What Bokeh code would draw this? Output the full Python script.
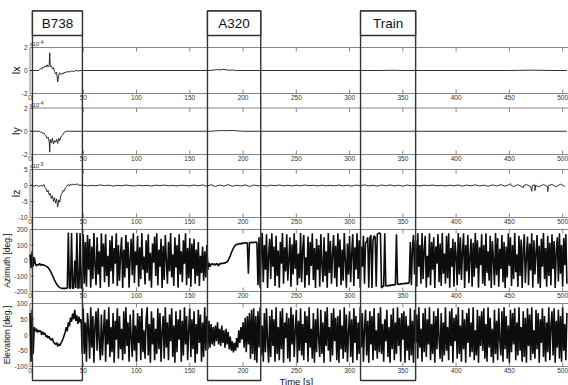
import math
import numpy as np
from bokeh.plotting import figure
from bokeh.models import Range1d
from bokeh.core.properties import value
from bokeh.embed import file_html
from bokeh.resources import INLINE

# ------------------------------------------------------------------ data
TIME_TICKS = [0, 50, 100, 150, 200, 250, 300, 350, 400, 450, 500]
WINDOW_NAMES = ["B738", "A320", "Train"]
WINDOW_START = [2.3, 166.6, 310.3]
WINDOW_END = [49.2, 216.6, 362.0]

# Ix, Iy in units of 1e-4
IX_T = [0, 8, 9, 10, 11, 12, 13, 14, 15, 16, 17, 18, 18.5, 19, 20, 21, 22, 23, 24, 25, 26, 27, 28, 29,
        30, 31, 32, 33, 35, 37, 39, 41, 43, 45, 47, 49, 168, 172, 175, 178, 181, 184, 187, 190, 193, 196,
        330, 340, 350, 450, 470, 490, 504]
IX_V = [0, 0, 0.1, 0.2, 0.1, 0.3, 0.25, 0.4, 0.3, 0.5, 0.3, 0.45, 1.55, 0.35, 0.4, 0.15, 0.25, -0.1, -0.3,
        -0.15, -1.0, -0.4, -0.2, -0.35, -0.25, -0.3, -0.15, -0.2, -0.1, -0.12, -0.05, -0.08, 0.0, -0.05, 0.0,
        0.0, 0, 0.03, 0.08, 0.05, 0.1, 0.06, 0.02, 0.05, 0.0, 0, 0, 0.02, 0, 0, 0.03, 0, 0]

IY_T = [0, 9, 10, 11, 12, 13, 14, 15, 16, 17, 18, 18.5, 19, 20, 21, 22, 23, 24, 25, 26, 27, 28, 29, 30, 31,
        32, 33, 34, 170, 175, 180, 185, 190, 195, 200, 504]
IY_V = [0, 0, -0.1, -0.05, -0.2, -0.15, -0.3, -0.4, -0.6, -0.5, -0.9, -1.8, -0.7, -1.0, -0.6, -1.1, -0.8,
        -0.95, -0.7, -1.05, -0.6, -0.8, -0.5, -0.4, -0.25, -0.1, -0.05, 0, 0, 0.04, 0.06, 0.05, 0.07, 0.03,
        0, 0]

# Iz in units of 1e-5
IZ_T_EARLY = [0, 2, 4, 6, 8, 10, 12, 13, 14, 15, 16, 17, 18, 19, 20, 21, 22, 23, 24, 25, 26, 27, 28, 29,
              30, 31, 32, 33, 34, 35, 36, 37, 38, 39, 40, 42, 44, 46]
IZ_V_EARLY = [0, 0.1, -0.2, 0.1, -0.3, 0.0, -0.2, 0.3, -0.5, -1.0, -2.0, -1.5, -3.0, -2.5, -4.0, -3.2, -5.0,
              -3.8, -5.5, -4.2, -6.7, -4.5, -5.2, -3.0, -2.5, -1.5, -1.8, -0.8, -0.5, 0.0, 0.3, -0.2, 0.5,
              0.1, 0.4, 0.2, 0.5, 0.1]
IZ_LATE_START = 50
IZ_LATE_STEP = 4
IZ_V_LATE = [0.1, -0.15, 0.05, -0.1, 0.2, -0.05, 0.1, -0.2, 0.05, -0.1,
             0.15, -0.05, -0.15, 0.1, -0.1, 0.05, -0.2, 0.1, -0.05, 0.15,
             -0.1, 0.05, -0.15, 0.1, 0.0, -0.15, 0.15, -0.1, 0.2, -0.25,
             0.25, -0.3, 0.15, -0.2, 0.3, -0.25, 0.1, -0.15, 0.2, -0.3,
             0.15, -0.1, 0.05, -0.15, 0.1, -0.05, 0.15, -0.1, 0.05, -0.15,
             0.1, -0.1, 0.15, -0.05, 0.05, -0.15, 0.1, -0.1, 0.05, -0.1,
             0.15, -0.15, 0.1, -0.2, 0.15, -0.1, 0.2, -0.15, 0.1, -0.2,
             0.15, -0.1, 0.2, -0.15, 0.1, -0.2, 0.15, -0.1, 0.05, -0.15,
             0.1, -0.05, 0.15, -0.1, 0.05, -0.15, 0.1, -0.1, 0.15, -0.2,
             0.15, -0.1, 0.2, -0.15, 0.1, -0.25, 0.2, -0.15, 0.25, -0.2,
             0.3, -0.3, 0.25, -0.4, 0.3, -0.35, 0.2, -0.4, 0.35, -0.45,
             0.3, -0.35, 0.4, -0.25]
IZ_SPIKE_T = [451, 451.6, 463, 463.6, 471, 471.6, 474, 474.6, 486, 486.6]
IZ_SPIKE_V = [0.6, 0.0, -0.8, 0.0, -1.8, 0.0, -1.6, 0.0, -1.9, 0.0]

SAMPLE_DT = 1.0  # seconds between azimuth / elevation samples
AZIMUTH = [
    40, -50, 60, -40, 20, -20, -35, -25, -30, -18,
    -32, -25, -30, -28, -34, -36, -40, -46, -55, -66,
    -80, -95, -110, -126, -140, -152, -162, -170, -175, -178,
    -180, -180, -179, -180, -180, -178, 180, -179, -178, 178,
    -180, -177, 0, -178, 179, -180, -176, 178, -179, -175,
    170, -150, 120, -170, 165, -60, 140, -175, 90, -120,
    178, -30, -160, 150, -90, 60, -178, 175, -40, 110,
    -140, 170, -100, 30, -170, 130, -70, 160, -150, 80,
    -20, 175, -165, 100, -130, 45, 150, -178, 70, -110,
    165, -50, 120, -175, 10, 140, -95, 175, -145, 60,
    -30, 160, -170, 85, -120, 178, -60, 25, -155, 130,
    -80, 170, -130, 50, -175, 110, -15, 155, -100, 175,
    -160, 70, -40, 140, -178, 95, -125, 165, 0, -150,
    120, -70, 178, -110, 40, -165, 150, -45, 100, -175,
    170, -90, 60, -140, 130, -20, 175, -160, 80, -115,
    145, -170, 110, -55, 140, -150, 70, -100, 120, -165,
    30, -80, 90, -130, 60, -110, 100, -60, -15, -40,
    -25, -20, -28, -22, -30, -18, -25, -35, -20, -22,
    -18, -20, -15, -17, -12, -10, 0, 15, 30, 50,
    65, 80, 92, 100, 105, 103, 108, 110, 106, 112,
    110, 114, 112, 115, 113, -85, 116, 114, 118, 115,
    118, 116, 120, 117, -160, 150, -175, 60, 178, -140,
    100, -60, 170, -178, 30, 140, -120, 175, -40, 90,
    -165, 160, -100, 65, -175, 120, -20, 178, -150, 85,
    -70, 170, -130, 10, 150, -170, 105, -90, 175, -55,
    130, -160, 45, -115, 178, -140, 70, 165, -175, 20,
    -95, 155, -160, 120, -35, 175, -125, 80, -178, 140,
    -60, 100, -170, 170, -20, -140, 150, -100, 60, -175,
    178, -80, 125, -150, 40, 165, -115, 95, -170, 175,
    -45, 135, -160, 70, -130, 178, 0, -175, 110, -90,
    160, -140, 50, 170, -165, 85, -60, 175, -120, 130,
    -178, 90, -40, 160, -150, 115, 120, 150, -175, 140,
    165, -178, 130, 160, 150, -170, 170, 175, 178, 172,
    -178, -165, -168, 175, -163, -165, -162, -160, -163, -158,
    -160, -156, -158, -155, 170, -155, -152, -154, -150, -152,
    -148, -150, -147, -150, -145, -148, -140, 120, -160, 80,
    165, -90, 130, -170, 175, -40, 100, -150, 178, -120,
    70, 160, -175, 30, -110, 175, -160, 120, -60, 150,
    -178, 90, -20, 170, -140, 110, -165, 178, -85, 45,
    -150, 160, -115, 175, -175, 80, -40, 140, -170, 120,
    30, -160, 178, -90, 150, -125, 60, 175, -178, 100,
    -70, 165, -145, 20, 140, -170, 115, -105, 178, -50,
    130, -175, 85, -30, 170, -150, 100, -165, 175, -80,
    60, -130, 160, -178, 125, 10, -160, 178, -95, 145,
    -170, 75, -55, 165, -140, 120, -178, 90, -110, 175,
    -35, 150, -165, 100, -120, 178, -75, 40, -170, 160,
    -100, 135, -178, 70, 170, -145, 20, 155, -160, 110,
    -65, 175, -175, 130, -90, 50, 165, -150, 95, -178,
    140, -40, 178, -120, 80, -170, 160, -100, 115, -160,
    170, -55, 125, -178, 60, 150, -135, 175, -85, 100,
    -170, 145, -30, 170, -150,
]
ELEVATION = [
    70, -85, 80, -60, 25, 12, 20, 8, 15, 10,
    14, 0, 10, 2, 6, -6, -2, -10, -4, -14,
    -16, -10, -22, -26, -30, -24, -36, -28, -34, -26,
    -20, -12, -2, 8, 25, 12, 40, 28, 55, 42,
    68, 50, 80, 45, 62, 35, 58, 40, 50, -60,
    85, -60, 40, -85, 70, 20, -75, 88, -40, 60,
    -88, 30, 75, -50, 85, -20, -80, 65, -65, 10,
    80, -85, 50, -30, 88, -70, 25, -55, 70, -88,
    45, -15, 85, -75, 60, -45, 20, -80, 75, -60,
    88, -35, 40, -85, 65, -10, -70, 80, -50, 30,
    -85, 70, -25, 60, -80, 85, -55, 15, -75, 50,
    88, -65, 35, -88, 75, -30, 55, -80, 20, -60,
    85, -45, 70, -85, 10, 60, -75, 88, -40, 40,
    -80, 65, -20, 85, -70, 30, -88, 75, -55, 50,
    -15, 80, -85, 45, -65, 88, -30, 60, -80, 20,
    85, -70, 50, -45, 75, -88, 35, -60, 80, -25,
    65, -85, 40, -70, 88, -50, 60, -45, 45, -40,
    35, -30, 25, -35, 30, -20, 40, -30, 20, -35,
    30, -25, 15, -40, 20, -30, 10, -45, -5, -50,
    -20, -55, -25, -50, -10, -40, 15, -25, 25, -15,
    40, -40, 55, -55, 60, -30, 70, -75, 80, -60,
    85, -80, 60, -88, 75, -40, 88, -65, 30, -85,
    70, -55, 85, -20, -88, 60, -70, 80, -35, 50,
    -85, 88, -60, 25, -80, 75, -45, 85, -88, 40,
    -10, 70, -75, 55, -85, 88, -30, 65, -70, 15,
    80, -88, 45, -50, 85, -65, 35, -80, 75, -25,
    60, -85, 88, -40, 20, -75, 70, -88, 50, -55,
    85, -15, -70, 80, -60, 40, -88, 75, -35, 88,
    -50, 25, -85, 70, -65, 85, -20, 55, -80, 60,
    -88, 80, -45, 30, -75, 88, -55, 65, -85, 10,
    75, -70, 50, -88, 85, -25, 60, -80, 40, -60,
    88, -40, 70, -85, 20, 80, -65, 45, -88, 75,
    -30, 60, -80, 85, -50, 15, -75, 70, -55, 88,
    -60, 35, -85, 50, -20, 80, -70, 25, -88, 65,
    -45, 85, -80, 40, -60, 88, -35, 55, -85, 70,
    -15, 75, -88, 60, -50, 30, -80, 85, -65, 45,
    -88, 80, -25, 65, -75, 88, -40, 20, -85, 70,
    -55, 85, -70, 50, -30, 88, -80, 35, -60, 75,
    -88, 60, -45, 85, -15, -75, 70, -85, 40, -65,
    88, -50, 25, -80, 75, -35, 85, -88, 55, -20,
    65, -75, 88, -60, 30, -85, 80, -45, 50, -88,
    70, -25, 85, -70, 40, -55, 88, -80, 15, -65,
    80, -88, 60, -35, 75, -50, 85, -75, 35, -85,
    88, -40, 55, -70, 20, -88, 80, -60, 45, -80,
    85, -15, -65, 75, -85, 88, -45, 60, -75, 30,
    -88, 80, -55, 70, -30, 85, -80, 40, -65, 88,
    -50, 25, -85, 75, -70, 55, -88, 85, -35, 65,
    -80, 88, -60, 15, -75, 80, -45, 70, -88, 50,
    -25, 85, -70, 60, -85, 40, -55, 88, -80, 30,
    75, -65, 85, -88, 45, -40, 80, -75, 60, -85,
    88, -50, 35, -80, 70,
]

IX_TICKS = [2, 0, -2]
IY_TICKS = [2, 0, -2]
IZ_TICKS = [5, 0, -5, -10]
AZ_TICKS = [200, 100, 0, -100, -200]
EL_TICKS = [100, 50, 0, -50, -100]

# ------------------------------------------------------------------ layout / style
W, H = 568, 385
X0_PX = 29.5          # pixel position of t = 0
T_END = 505.5         # time at the right edge
PXS = (W - X0_PX) / T_END
FONT = value("Liberation Sans")
FRAME_C = "#858585"
TICKLAB_C = "#333333"
BOX_C = "#333333"
TICK_FS = "6.5px"

HDR_TOP, HDR_BOT, BOX_BOT = 10.5, 35.0, 380.0
TIME_LABEL_Y = 380.5

# Iz: early samples, regular late samples and a few short spikes, merged in time order
iz_pairs = list(zip(IZ_T_EARLY, IZ_V_EARLY))
iz_pairs += [(IZ_LATE_START + IZ_LATE_STEP * i, v) for i, v in enumerate(IZ_V_LATE)]
iz_pairs += list(zip(IZ_SPIKE_T, IZ_SPIKE_V))
iz_pairs.sort(key=lambda tv: tv[0])
iz_t = [tv[0] for tv in iz_pairs]
iz_v = [tv[1] for tv in iz_pairs]
samp_t = list(np.arange(len(AZIMUTH)) * SAMPLE_DT)

panels = [
    dict(key="ix", label="Ix", lo=-2, hi=2, top=47, bot=93, ticks=IX_TICKS, exp="-4",
         lab_dx=14.5, lab_size="10.5px", t=IX_T, v=IX_V, lw=0.9, col="#1a1a1a"),
    dict(key="iy", label="Iy", lo=-2, hi=2, top=107.5, bot=154, ticks=IY_TICKS, exp="-4",
         lab_dx=14.5, lab_size="10.5px", t=IY_T, v=IY_V, lw=0.9, col="#1a1a1a"),
    dict(key="iz", label="Iz", lo=-10, hi=5, top=169, bot=217, ticks=IZ_TICKS, exp="-5",
         lab_dx=14.5, lab_size="10.5px", t=iz_t, v=iz_v, lw=0.9, col="#1a1a1a"),
    dict(key="az", label="Azimuth [deg.]", lo=-200, hi=200, top=229, bot=291, ticks=AZ_TICKS,
         exp=None, lab_dx=22.8, lab_size="8.5px", t=samp_t, v=AZIMUTH, lw=1.6, col="#0d0d0d"),
    dict(key="el", label="Elevation [deg.]", lo=-100, hi=100, top=303, bot=366, ticks=EL_TICKS,
         exp=None, lab_dx=22.8, lab_size="8.5px", t=samp_t, v=ELEVATION, lw=1.6, col="#0d0d0d"),
]

p = figure(width=W, height=H, output_backend="svg", toolbar_location=None,
           x_range=Range1d(-X0_PX / PXS, T_END), y_range=Range1d(H, 0),
           x_axis_location=None, y_axis_location=None, min_border=0)
p.xgrid.visible = False
p.ygrid.visible = False
p.outline_line_color = None
p.background_fill_color = "white"
p.border_fill_color = "white"

extra = {}
for pn in panels:
    upp = (pn["hi"] - pn["lo"]) / (pn["bot"] - pn["top"])
    pn["upp"] = upp
    extra[pn["key"]] = Range1d(start=pn["hi"] - (H - pn["top"]) * upp, end=pn["hi"] + pn["top"] * upp)
p.extra_y_ranges = extra

xt_inner = [t for t in TIME_TICKS if t > 0]
for pn in panels:
    k, lo, hi, upp = pn["key"], pn["lo"], pn["hi"], pn["upp"]
    # frame
    p.quad(left=[0], right=[T_END + 10], bottom=[lo], top=[hi], y_range_name=k,
           fill_color=None, line_color=FRAME_C, line_width=1)
    # inward ticks
    tl = 4 * upp
    n = len(xt_inner)
    p.segment(x0=xt_inner, x1=xt_inner, y0=[hi] * n, y1=[hi - tl] * n, y_range_name=k,
              line_color=FRAME_C, line_width=1)
    p.segment(x0=xt_inner, x1=xt_inner, y0=[lo] * n, y1=[lo + tl] * n, y_range_name=k,
              line_color=FRAME_C, line_width=1)
    yt = pn["ticks"]
    p.segment(x0=[0] * len(yt), x1=[4 / PXS] * len(yt), y0=yt, y1=yt, y_range_name=k,
              line_color=FRAME_C, line_width=1)
    # data
    p.line(pn["t"], pn["v"], y_range_name=k, line_color=pn["col"], line_width=pn["lw"])
    # x tick labels
    p.text(x=TIME_TICKS, y=[lo] * len(TIME_TICKS), text=[str(t) for t in TIME_TICKS], y_range_name=k,
           text_align="center", text_baseline="top", y_offset=1.5, text_font=FONT,
           text_font_size=TICK_FS, text_color=TICKLAB_C)
    # y tick labels
    p.text(x=[0] * len(yt), y=yt, text=[str(v) for v in yt], y_range_name=k,
           text_align="right", text_baseline="middle", x_offset=-2.5, text_font=FONT,
           text_font_size=TICK_FS, text_color=TICKLAB_C)
    # multiplier
    if pn["exp"]:
        p.text(x=[0], y=[hi], text=["x10"], y_range_name=k, text_align="left",
               text_baseline="bottom", x_offset=-0.5, y_offset=-0.5, text_font=FONT,
               text_font_size="6px", text_color=TICKLAB_C)
        p.text(x=[0], y=[hi], text=[pn["exp"]], y_range_name=k, text_align="left",
               text_baseline="bottom", x_offset=9, y_offset=-3.5, text_font=FONT,
               text_font_size="5px", text_color=TICKLAB_C)
    # panel label
    p.text(x=[-pn["lab_dx"] / PXS], y=[(lo + hi) / 2], text=[pn["label"]], y_range_name=k,
           angle=math.pi / 2, text_align="center", text_baseline="middle", text_font=FONT,
           text_font_size=pn["lab_size"], text_color="#111111")

# event windows
nW = len(WINDOW_NAMES)
p.quad(left=WINDOW_START, right=WINDOW_END, top=[HDR_TOP] * nW, bottom=[BOX_BOT] * nW,
       fill_color=None, line_color=BOX_C, line_width=1.4)
p.quad(left=WINDOW_START, right=WINDOW_END, top=[HDR_TOP] * nW, bottom=[HDR_BOT] * nW,
       fill_color="white", line_color=BOX_C, line_width=1.4)
p.text(x=[(a + b) / 2 for a, b in zip(WINDOW_START, WINDOW_END)], y=[(HDR_TOP + HDR_BOT) / 2] * nW,
       text=WINDOW_NAMES, text_align="center", text_baseline="middle", text_font=FONT,
       text_font_size="13.5px", text_color="#111111")

# x axis title
p.text(x=[(TIME_TICKS[0] + TIME_TICKS[-1]) / 2], y=[TIME_LABEL_Y], text=["Time [s]"],
       text_align="center", text_baseline="middle", text_font=FONT, text_font_size="9.5px",
       text_color="#111111")

open("out.html", "w").write(file_html(p, INLINE))
